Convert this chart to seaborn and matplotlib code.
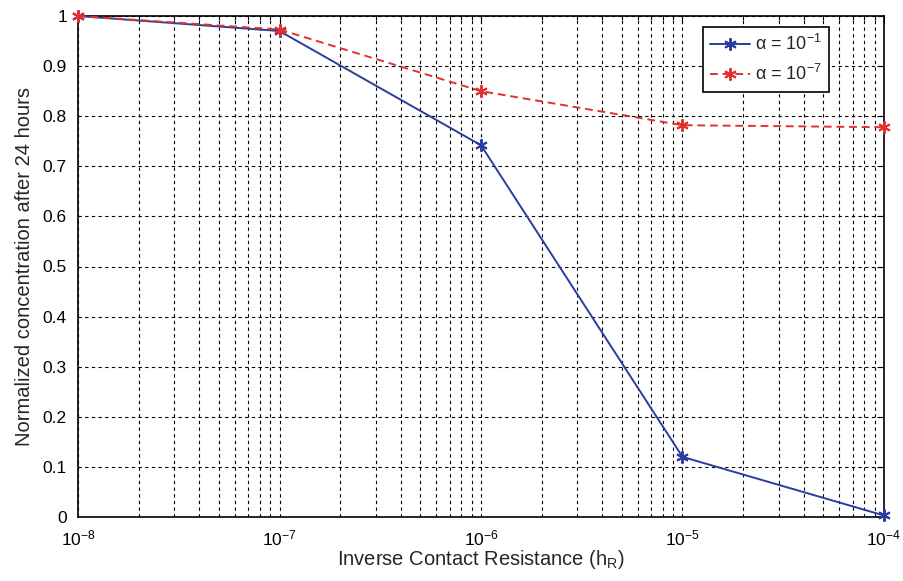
import matplotlib
matplotlib.use("Agg")
import matplotlib.pyplot as plt
import matplotlib.ticker as mticker
import seaborn as sns
import pandas as pd
import numpy as np

# Data
h_R = [1e-8, 1e-7, 1e-6, 1e-5, 1e-4]
conc_alpha1 = [1.0, 0.970, 0.742, 0.120, 0.003]
conc_alpha7 = [1.0, 0.973, 0.850, 0.782, 0.778]
series_labels = [r"α = 10$^{-1}$", r"α = 10$^{-7}$"]
x_tick_labels = [r"10$^{-8}$", r"10$^{-7}$", r"10$^{-6}$", r"10$^{-5}$", r"10$^{-4}$"]
y_ticks = [0, 0.1, 0.2, 0.3, 0.4, 0.5, 0.6, 0.7, 0.8, 0.9, 1]
y_tick_labels = ["0", "0.1", "0.2", "0.3", "0.4", "0.5", "0.6", "0.7", "0.8", "0.9", "1"]

sns.set_style("white")
plt.rcParams["font.family"] = ["Liberation Sans", "DejaVu Sans"]
plt.rcParams["mathtext.fontset"] = "custom"
plt.rcParams["mathtext.rm"] = "Liberation Sans"
plt.rcParams["mathtext.it"] = "Liberation Sans:italic"
plt.rcParams["mathtext.default"] = "regular"

df = pd.DataFrame({
    "h": h_R * 2,
    "c": conc_alpha1 + conc_alpha7,
    "s": [series_labels[0]] * len(h_R) + [series_labels[1]] * len(h_R),
})

fig = plt.figure(figsize=(9.04, 5.81), dpi=100)
ax = fig.add_axes([78 / 904, 1 - 517 / 581, (884 - 78) / 904, (517 - 16) / 581])

colors = {series_labels[0]: "#2a3d9e", series_labels[1]: "#e2312c"}
star = (6, 2, 0)
sns.lineplot(data=df, x="h", y="c", hue="s", style="s", palette=colors,
             dashes={series_labels[0]: "", series_labels[1]: (4, 2.5)},
             markers={series_labels[0]: star, series_labels[1]: star},
             markersize=9, markeredgewidth=1.4, markeredgecolor=None,
             linewidth=1.4, ax=ax, legend=True,
             zorder=3, clip_on=False)

ax.set_xscale("log")
ax.set_xlim(1e-8, 1e-4)
ax.set_ylim(0, 1)
ax.set_xticks(h_R)
ax.set_xticklabels(x_tick_labels, fontsize=12.5)
ax.xaxis.set_minor_locator(mticker.LogLocator(base=10, subs=np.arange(2, 10)))
ax.xaxis.set_minor_formatter(mticker.NullFormatter())
ax.set_yticks(y_ticks)
ax.set_yticklabels(y_tick_labels, fontsize=12.5)

ax.grid(True, which="major", axis="both", color="black", linestyle=(0, (3, 3)), linewidth=0.8)
ax.grid(True, which="minor", axis="x", color="black", linestyle=(0, (3, 3)), linewidth=0.8)
ax.set_axisbelow(True)

ax.tick_params(axis="both", which="both", direction="in", top=True, right=True,
               length=5, width=0.8, colors="black")
ax.tick_params(axis="x", which="minor", length=3)
ax.tick_params(axis="x", which="major", pad=8)
ax.tick_params(axis="y", which="major", pad=8)
for sp in ax.spines.values():
    sp.set_color("black")
    sp.set_linewidth(1.2)
    sp.set_visible(True)

ax.set_xlabel("Inverse Contact Resistance (h$_R$)", fontsize=14.5, labelpad=0)
ax.set_ylabel("Normalized concentration after 24 hours", fontsize=14.5, labelpad=6)

leg = ax.legend(loc="upper left", bbox_to_anchor=((703 - 78) / 806, 1 - (27 - 16) / 501),
                fontsize=13,
                frameon=True, fancybox=False, edgecolor="black", framealpha=1,
                handlelength=2.2, borderpad=0.4, labelspacing=0.55, handletextpad=0.3,
                borderaxespad=0)
leg.get_frame().set_linewidth(1.2)
leg.set_title(None)

fig.savefig("out.png", dpi=100)
